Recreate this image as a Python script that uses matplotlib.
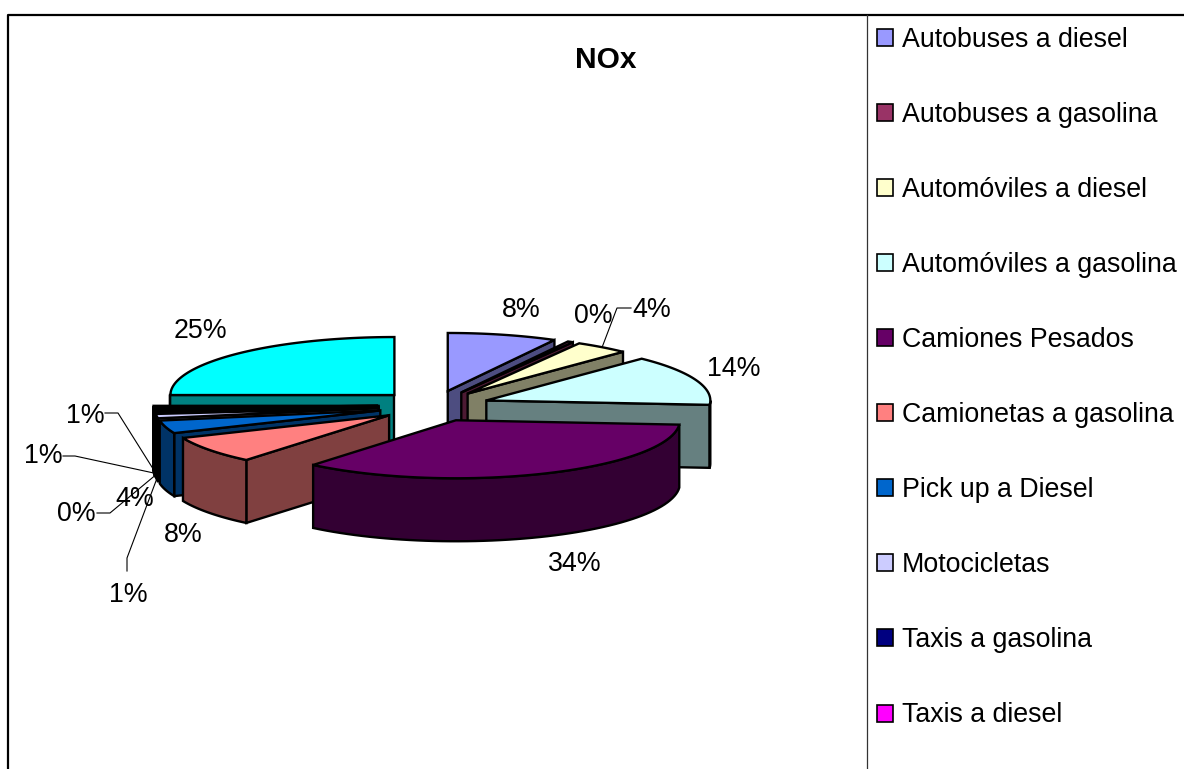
import numpy as np
import matplotlib
matplotlib.use('Agg')
import matplotlib.pyplot as plt
from matplotlib.patches import Patch, Polygon

plt.rcParams['font.family'] = ['Liberation Sans', 'DejaVu Sans']

# Data, clockwise from 12 o'clock
values = [7.9, 0.4, 3.9, 14.0, 34.8, 7.6, 3.6, 1.2, 0.4, 0.6, 0.6, 25.0]
labels = ['8%', '0%', '4%', '14%', '34%', '8%', '4%', '1%', '0%', '1%', '1%', '25%']
colors = ['#9999FF', '#993366', '#FFFFCC', '#CCFFFF', '#660066', '#FF8080',
          '#0066CC', '#CCCCFF', '#000080', '#FF00FF', '#FFFF00', '#00FFFF']
legend_names = ['Autobuses a diesel', 'Autobuses a gasolina', 'Automóviles a diesel',
                'Automóviles a gasolina', 'Camiones Pesados', 'Camionetas a gasolina',
                'Pick up a Diesel', 'Motocicletas', 'Taxis a gasolina', 'Taxis a diesel']

# Pie geometry in image pixels
cx, cy = 434, 406
rx, ry = 224, 58
ex, ey = 56, 15.5
depth = 63
lw = 1.7
thin_slices = [9, 10]  # nearly all outline in the picture

# label centres, and the elbow of the leader line where the label has one
label_pos = [(521, 310), (593, 316), (652, 310), (734, 369), (575, 564), (183, 535),
             (135, 499), (128, 595), (76, 514), (43, 456), (85, 416), (200, 331)]
leaders = {2: [(631, 308), (617, 308)],
           7: [(127, 571), (127, 558)],
           8: [(97, 513), (110, 513)],
           9: [(63, 456), (75, 456)],
           10: [(105, 413), (118, 413)]}


def darker(col):
    return tuple(c / 2 for c in matplotlib.colors.to_rgb(col))


fig = plt.figure(figsize=(11.84, 7.69), dpi=100)
ax = fig.add_axes([0, 0, 1, 1])
ax.set_xlim(0, 1184)
ax.set_ylim(769, 0)
ax.axis('off')

# Frame of the chart area, the bottom runs off the image
ax.plot([8, 8, 1184], [769, 14.5, 14.5], color='black', lw=1.6)
ax.plot([867, 867], [14.5, 769], color='#333333', lw=0.9)

ax.text(606, 60, 'NOx', fontsize=21.5, fontweight='bold', ha='center', va='center')

edges = np.cumsum([0] + values) / sum(values) * 360
slices = []
for i, v in enumerate(values):
    a0, a1 = edges[i], edges[i + 1]
    mid = np.radians((a0 + a1) / 2)
    slices.append((np.cos(mid), i, a0, a1, mid))

# back to front so the nearer slices cover the farther ones
for _, i, a0, a1, mid in sorted(slices, key=lambda s: -s[0]):
    ax0 = cx + ex * np.sin(mid)
    ay0 = cy - ey * np.cos(mid)
    t = np.radians(np.linspace(a0, a1, 60))
    rim_x = ax0 + rx * np.sin(t)
    rim_y = ay0 - ry * np.cos(t)
    side = darker(colors[i])
    style = dict(edgecolor='black', linewidth=2.4 if i in thin_slices else lw, joinstyle='miter')

    # cut faces, only when they turn to the viewer
    if np.sin(t[0]) < 0:
        quad = [(ax0, ay0), (rim_x[0], rim_y[0]), (rim_x[0], rim_y[0] + depth), (ax0, ay0 + depth)]
        ax.add_patch(Polygon(quad, facecolor=side, **style))
    if np.sin(t[-1]) > 0:
        quad = [(ax0, ay0), (rim_x[-1], rim_y[-1]), (rim_x[-1], rim_y[-1] + depth), (ax0, ay0 + depth)]
        ax.add_patch(Polygon(quad, facecolor=side, **style))

    # outer wall, front half of the rim
    front = np.cos(t) < 0
    if front.any():
        wx, wy = rim_x[front], rim_y[front]
        wall = np.column_stack([np.r_[wx, wx[::-1]], np.r_[wy, wy[::-1] + depth]])
        ax.add_patch(Polygon(wall, facecolor=side, **style))

    top = np.column_stack([np.r_[ax0, rim_x], np.r_[ay0, rim_y]])
    ax.add_patch(Polygon(top, facecolor=colors[i], **style))

# Data labels and their leader lines
for i, lab in enumerate(labels):
    ax.text(label_pos[i][0], label_pos[i][1], lab, fontsize=19.3, ha='center', va='center')
for i, pts in leaders.items():
    _, _, a0, a1, mid = slices[i]
    tip_x = cx + (ex + rx) * np.sin(mid)
    tip_y = cy - (ey + ry) * np.cos(mid) + (depth if np.cos(mid) < 0 else 0)
    xs = [p[0] for p in pts] + [tip_x]
    ys = [p[1] for p in pts] + [tip_y]
    ax.plot(xs, ys, color='black', lw=0.8)

handles = [Patch(facecolor=c, edgecolor='black', linewidth=1.2) for c in colors[:len(legend_names)]]
ax.legend(handles, legend_names, loc='upper left', bbox_to_anchor=(877, 27), bbox_transform=ax.transData,
          frameon=False, fontsize=19.3, handlelength=0.6, handleheight=0.6, handletextpad=0.32,
          labelspacing=1.83, borderpad=0, borderaxespad=0)

plt.savefig('out.png', dpi=100)
